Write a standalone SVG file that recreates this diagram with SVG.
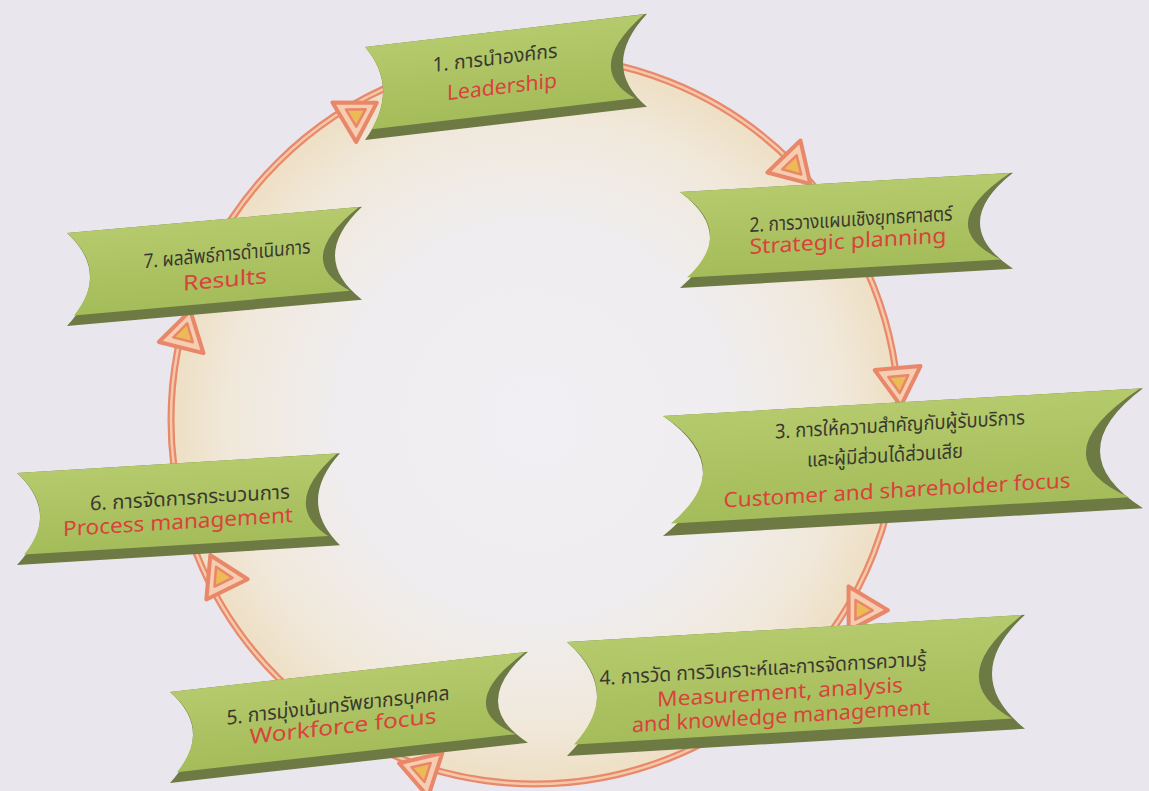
<svg xmlns="http://www.w3.org/2000/svg" xmlns:xlink="http://www.w3.org/1999/xlink" width="1149" height="791" viewBox="0 0 1149 791">
<style>
.dark{fill:#6d7a44;}
.front{fill:url(#gface);}
.th{font-family:"Noto Sans Thai","Noto Sans","DejaVu Sans",sans-serif;font-size:20px;fill:#3a392f;text-anchor:middle;}
.en{font-family:"Noto Sans","Liberation Sans",sans-serif;font-size:21px;fill:#d8433d;text-anchor:middle;}
.ringo{fill:none;stroke:#e8896c;stroke-width:7;}
.ringi{fill:none;stroke:#f6c8aa;stroke-width:2.5;}
</style>
<defs>
<radialGradient id="ginner" gradientUnits="userSpaceOnUse" cx="535" cy="420" r="362">
<stop offset="0" stop-color="#f1eff3"/>
<stop offset="0.55" stop-color="#efedef"/>
<stop offset="0.85" stop-color="#f1e8da"/>
<stop offset="1" stop-color="#eedfc4"/>
</radialGradient>
<linearGradient id="gface" x1="0" y1="0" x2="0" y2="1">
<stop offset="0" stop-color="#b5ca6c"/>
<stop offset="1" stop-color="#a5bc5a"/>
</linearGradient>
<g id="ah">
<path d="M22,0 L-16,-23 L-16,23 Z" fill="#f6cdb0" stroke="#e8876a" stroke-width="4" stroke-linejoin="round"/>
<path d="M9,0 L-8,-10 L-8,10 Z" fill="#ecbb55" stroke="#e8876a" stroke-width="2.5" stroke-linejoin="round"/>
</g>
</defs>
<rect x="0" y="0" width="1149" height="791" fill="#e9e7ed"/>
<circle cx="535" cy="420" r="362" fill="url(#ginner)"/>
<g id="connectors">
<circle class="ringo" cx="535" cy="420" r="364"/>
<circle class="ringi" cx="535" cy="420" r="364"/>
<use xlink:href="#ah" transform="translate(358,114) rotate(-31)"/>
<use xlink:href="#ah" transform="translate(795,168) rotate(46)"/>
<use xlink:href="#ah" transform="translate(899,384) rotate(85)"/>
<use xlink:href="#ah" transform="translate(860,612) rotate(121)"/>
<use xlink:href="#ah" transform="translate(420,770) rotate(198)"/>
<use xlink:href="#ah" transform="translate(220,575) rotate(244)"/>
<use xlink:href="#ah" transform="translate(185,332) rotate(-76)"/>
</g>
<g id="node1" transform="translate(365,47) skewY(-6.7)">
<path class="dark" d="M0,0 L282,0 Q234,46.5 282,93 L0,93 Q36,46.5 0,0Z"/>
<path class="front" d="M0,0 L279,0 Q217.5,47.25 270,83 L7,83 Q32.5,41.5 0,0Z"/>
<text class="th" x="130" y="33" textLength="125" lengthAdjust="spacingAndGlyphs">1. การนำองค์กร</text>
<text class="en" x="137" y="63" textLength="110" lengthAdjust="spacingAndGlyphs">Leadership</text>
</g>
<g id="node2" transform="translate(680,192) skewY(-3.3)">
<path class="dark" d="M0,0 L333,0 Q267,48 333,96 L0,96 Q60,48 0,0Z"/>
<path class="front" d="M0,0 L330,0 Q250.5,48.75 321,86 L7,86 Q56.5,43 0,0Z"/>
<text class="th" x="171" y="44" textLength="203" lengthAdjust="spacingAndGlyphs">2. การวางแผนเชิงยุทธศาสตร์</text>
<text class="en" x="168" y="66" textLength="197" lengthAdjust="spacingAndGlyphs">Strategic planning</text>
</g>
<g id="node3" transform="translate(663,416) skewY(-3.3)">
<path class="dark" d="M0,0 L480,0 Q394,60 480,120 L0,120 Q80,60 0,0Z"/>
<path class="front" d="M0,0 L477,0 Q374.5,62 466,108 L8,108 Q76,54 0,0Z"/>
<text class="th" x="237" y="29" textLength="250" lengthAdjust="spacingAndGlyphs">3. การให้ความสำคัญกับผู้รับบริการ</text>
<text class="th" x="222" y="59" textLength="156" lengthAdjust="spacingAndGlyphs">และผู้มีส่วนได้ส่วนเสีย</text>
<text class="en" x="234" y="95" textLength="347" lengthAdjust="spacingAndGlyphs">Customer and shareholder focus</text>
</g>
<g id="node4" transform="translate(567,642) skewY(-3.4)">
<path class="dark" d="M0,0 L458,0 Q392,57 458,114 L0,114 Q60,57 0,0Z"/>
<path class="front" d="M0,0 L455,0 Q374,58.5 445,103 L7,103 Q56.5,51.5 0,0Z"/>
<text class="th" x="196" y="45" textLength="327" lengthAdjust="spacingAndGlyphs">4. การวัด การวิเคราะห์และการจัดการความรู้</text>
<text class="en" x="213" y="70" textLength="246" lengthAdjust="spacingAndGlyphs">Measurement, analysis</text>
<text class="en" x="214" y="94" textLength="298" lengthAdjust="spacingAndGlyphs">and knowledge management</text>
</g>
<g id="node5" transform="translate(170,692) skewY(-6.4)">
<path class="dark" d="M0,0 L358,0 Q298,45.5 358,91 L0,91 Q46,45.5 0,0Z"/>
<path class="front" d="M0,0 L355,0 Q281.5,46.5 346,81 L7,81 Q42.5,40.5 0,0Z"/>
<text class="th" x="168" y="39" textLength="223" lengthAdjust="spacingAndGlyphs">5. การมุ่งเน้นทรัพยากรบุคคล</text>
<text class="en" x="173" y="61" textLength="187" lengthAdjust="spacingAndGlyphs">Workforce focus</text>
</g>
<g id="node6" transform="translate(17,473) skewY(-3.5)">
<path class="dark" d="M0,0 L323,0 Q279,46 323,92 L0,92 Q46,46 0,0Z"/>
<path class="front" d="M0,0 L320,0 Q262.5,47 311,82 L7,82 Q42.5,41 0,0Z"/>
<text class="th" x="173" y="42" textLength="200" lengthAdjust="spacingAndGlyphs">6. การจัดการกระบวนการ</text>
<text class="en" x="161" y="66" textLength="230" lengthAdjust="spacingAndGlyphs">Process management</text>
</g>
<g id="node7" transform="translate(67,233) skewY(-5.1)">
<path class="dark" d="M0,0 L295,0 Q241,46.5 295,93 L0,93 Q46,46.5 0,0Z"/>
<path class="front" d="M0,0 L292,0 Q224.5,47.5 283,83 L7,83 Q42.5,41.5 0,0Z"/>
<text class="th" x="160" y="42" textLength="167" lengthAdjust="spacingAndGlyphs">7. ผลลัพธ์การดำเนินการ</text>
<text class="en" x="158" y="68" textLength="84" lengthAdjust="spacingAndGlyphs">Results</text>
</g>
</svg>
